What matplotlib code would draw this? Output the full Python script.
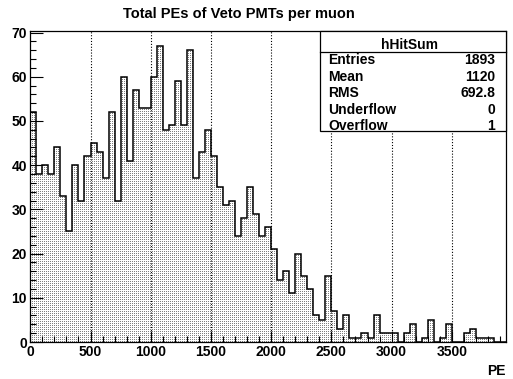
import numpy as np
import matplotlib
matplotlib.use("Agg")
import matplotlib.pyplot as plt
from matplotlib.ticker import MultipleLocator

# Histogram contents: 50-PE bins from 0 to 3950
bin_width = 50
x_min, x_max = 0, 3950
counts = [52, 38, 40, 38, 44, 33, 25, 40, 32, 42, 45, 43, 37, 52,
          32, 60, 41, 57, 53, 53, 60, 67, 48, 49, 59, 49, 66, 37, 43, 48, 42,
          35, 31, 32, 24, 28, 35, 29, 24, 26, 21, 14, 16, 11, 20, 15, 12, 6,
          5, 15, 7, 3, 6, 1, 1, 2, 1, 6, 2, 2, 2, 0, 2, 4, 0, 1, 5, 0, 1, 4,
          0, 0, 2, 3, 1, 1, 1, 0, 0]
edges = np.arange(x_min, x_max + bin_width, bin_width)

title = "Total PEs of Veto PMTs per muon"
x_label = "PE"
hist_name = "hHitSum"
stat_names = ["Entries", "Mean", "RMS", "Underflow", "Overflow"]
stat_values = ["1893", "1120", "692.8", "0", "1"]

FONT = "Liberation Sans"
W_PX, H_PX = 513, 379
fig = plt.figure(figsize=(W_PX / 100, H_PX / 100), dpi=100)
fig.patch.set_facecolor("white")

ax_l, ax_r, ax_t, ax_b = 30.3, 506.0, 31.0, 342.0
ax = fig.add_axes([ax_l / W_PX, 1 - ax_b / H_PX,
                   (ax_r - ax_l) / W_PX, (ax_b - ax_t) / H_PX])
y_max = max(counts) * 1.05

# Stippled fill: a fine dot pattern clipped to the histogram area
fill = ax.stairs(counts, edges, fill=True, facecolor="none",
                 edgecolor="none", zorder=1)
pw, ph = int(round(ax_r - ax_l)), int(round(ax_b - ax_t))
pattern = np.ones((ph, pw))
pattern[::2, ::2] = 0.5
im = ax.imshow(pattern, cmap="gray", vmin=0, vmax=1,
               extent=[x_min, x_max, 0, y_max], aspect="auto",
               interpolation="nearest", origin="upper", zorder=1)
im.set_clip_path(fill)

# Dotted vertical grid at the major x ticks
for gx in range(500, x_max, 500):
    ax.axvline(gx, color="black", lw=0.8, ls=(0, (1, 1.6)), zorder=1.5)

ax.stairs(counts, edges, fill=False, color="black", lw=1.1, zorder=2)

ax.set_xlim(x_min, x_max)
ax.set_ylim(0, y_max)
ax.xaxis.set_major_locator(MultipleLocator(500))
ax.xaxis.set_minor_locator(MultipleLocator(100))
ax.yaxis.set_major_locator(MultipleLocator(10))
ax.yaxis.set_minor_locator(MultipleLocator(2))
ax.tick_params(axis="both", which="both", direction="in",
               top=False, right=False, width=0.8, color="black")
ax.tick_params(axis="y", which="major", length=9.4, pad=2.5)
ax.tick_params(axis="y", which="minor", length=4.0)
ax.tick_params(axis="x", which="major", length=7.7, pad=2.5)
ax.tick_params(axis="x", which="minor", length=4.1)
for lab in ax.get_xticklabels() + ax.get_yticklabels():
    lab.set_fontfamily(FONT)
    lab.set_fontweight("bold")
    lab.set_fontsize(10)
for sp in ax.spines.values():
    sp.set_linewidth(0.9)
    sp.set_color("black")

# Title and axis label
fig.text(239 / W_PX, 1 - 18 / H_PX, title, ha="center", va="baseline",
         fontfamily=FONT, fontweight="bold", fontsize=10.5)
fig.text(506 / W_PX, 1 - 375 / H_PX, x_label, ha="right", va="baseline",
         fontfamily=FONT, fontweight="bold", fontsize=10)

# Statistics box
bx0, bx1, by0, by1 = 319.5, 506.0, 31.0, 131.0
box = plt.Rectangle((bx0 / W_PX, 1 - by1 / H_PX), (bx1 - bx0) / W_PX,
                    (by1 - by0) / H_PX, transform=fig.transFigure,
                    facecolor="white", edgecolor="black", lw=0.9, zorder=5)
fig.add_artist(box)
sep = plt.Line2D([bx0 / W_PX, bx1 / W_PX], [1 - 51.7 / H_PX] * 2,
                 transform=fig.transFigure, color="black", lw=0.9, zorder=6)
fig.add_artist(sep)
fig.text(410 / W_PX, 1 - 49 / H_PX, hist_name, ha="center", va="baseline",
         fontfamily=FONT, fontweight="bold", fontsize=10, zorder=7)
row_base = [64.3, 80.8, 97.3, 113.8, 130.3]
for name, val, yb in zip(stat_names, stat_values, row_base):
    fig.text(328 / W_PX, 1 - yb / H_PX, name, ha="left", va="baseline",
             fontfamily=FONT, fontweight="bold", fontsize=10, zorder=7)
    fig.text(495 / W_PX, 1 - yb / H_PX, val, ha="right", va="baseline",
             fontfamily=FONT, fontweight="bold", fontsize=10, zorder=7)

fig.savefig("out.png", dpi=100)
